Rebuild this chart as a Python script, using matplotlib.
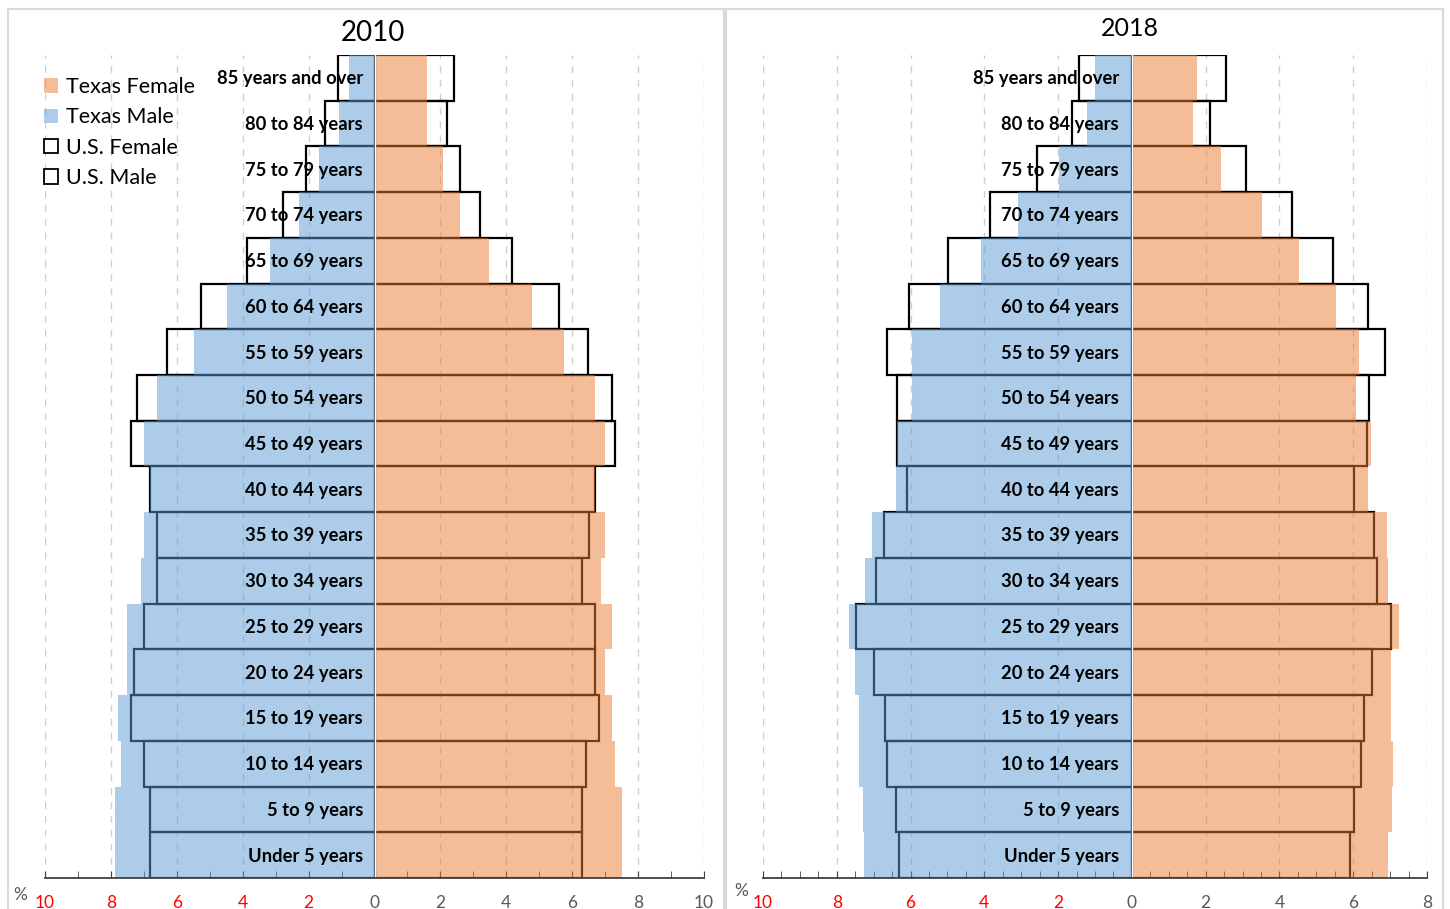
import matplotlib.pyplot as plt
from matplotlib.patches import Patch, Rectangle
from matplotlib.ticker import MultipleLocator

plt.rcParams['font.family'] = ['Lato', 'DejaVu Sans']

# ----------------------------
# Daten (von unten nach oben)
# ----------------------------
ages = ["Under 5 years", "5 to 9 years", "10 to 14 years", "15 to 19 years",
        "20 to 24 years", "25 to 29 years", "30 to 34 years", "35 to 39 years",
        "40 to 44 years", "45 to 49 years", "50 to 54 years", "55 to 59 years",
        "60 to 64 years", "65 to 69 years", "70 to 74 years", "75 to 79 years",
        "80 to 84 years", "85 years and over"]

tx_f_2010 = [7.52, 7.52, 7.30, 7.21, 7.00, 7.21, 6.88, 7.00, 6.70, 7.00,
             6.70, 5.76, 4.77, 3.47, 2.58, 2.09, 1.59, 1.59]
tx_m_2010 = [7.89, 7.89, 7.69, 7.79, 7.50, 7.50, 7.09, 7.00, 6.81, 7.00,
             6.59, 5.48, 4.49, 3.18, 2.28, 1.68, 1.09, 0.77]
us_f_2010 = [6.30, 6.30, 6.41, 6.82, 6.70, 6.70, 6.30, 6.52, 6.70, 7.30,
             7.21, 6.48, 5.59, 4.17, 3.19, 2.59, 2.20, 2.40]
us_m_2010 = [6.80, 6.80, 7.00, 7.39, 7.29, 7.00, 6.59, 6.59, 6.81, 7.38,
             7.21, 6.30, 5.26, 3.87, 2.78, 2.08, 1.51, 1.10]

tx_f_2018 = [6.95, 7.05, 7.07, 7.02, 7.02, 7.24, 6.95, 6.91, 6.40, 6.48,
             6.07, 6.16, 5.53, 4.54, 3.53, 2.42, 1.66, 1.77]
tx_m_2018 = [7.25, 7.29, 7.39, 7.41, 7.50, 7.67, 7.23, 7.05, 6.40, 6.38,
             5.95, 5.95, 5.19, 4.10, 3.08, 1.97, 1.21, 1.01]
us_f_2018 = [5.91, 6.02, 6.21, 6.29, 6.50, 7.02, 6.65, 6.56, 6.03, 6.36,
             6.43, 6.87, 6.41, 5.46, 4.33, 3.09, 2.13, 2.54]
us_m_2018 = [6.30, 6.40, 6.64, 6.69, 6.98, 7.48, 6.95, 6.72, 6.10, 6.38,
             6.37, 6.64, 6.04, 4.99, 3.84, 2.57, 1.61, 1.43]

BLUE = "#5B9BD5"
ORANGE = "#ED7D31"

W, H = 1450, 909
fig = plt.figure(figsize=(W / 100, H / 100), dpi=100)

# Rahmen der beiden Diagrammbereiche
for x0, x1 in [(8, 724), (726, 1443)]:
    fig.patches.append(Rectangle((x0 / W, -0.01), (x1 - x0) / W, 1 - 8.5 / H + 0.01,
                                 transform=fig.transFigure, fill=False,
                                 edgecolor="#D9D9D9", lw=1.5))


def pyramid(ax, tx_f, tx_m, us_f, us_m, xmax, minor):
    y = list(range(len(ages)))
    neg_m = [-v for v in us_m]
    neg_tm = [-v for v in tx_m]
    # U.S. als Umriss, Texas halbtransparent darueber
    ax.barh(y, us_f, height=1.0, facecolor="none", edgecolor="black", lw=1.6, zorder=2)
    ax.barh(y, neg_m, height=1.0, facecolor="none", edgecolor="black", lw=1.6, zorder=2)
    ax.barh(y, tx_f, height=1.0, color=ORANGE, alpha=0.5, lw=0, zorder=3)
    ax.barh(y, neg_tm, height=1.0, color=BLUE, alpha=0.5, lw=0, zorder=3)
    ax.axvline(0, color="white", lw=1.0, zorder=4)

    for yi, lab in zip(y, ages):
        ax.text(-0.35, yi - 0.02, lab, ha="right", va="center", fontsize=13.2,
                fontweight="bold", color="black", zorder=5)

    ax.set_xlim(-10, xmax)
    ax.set_ylim(-0.5, len(ages) - 0.5)
    ticks = list(range(-10, xmax + 1, 2))
    ax.set_xticks(ticks)
    ax.set_xticklabels([str(abs(t)) for t in ticks])
    ax.xaxis.set_minor_locator(MultipleLocator(minor))
    for lab, t in zip(ax.get_xticklabels(), ticks):
        lab.set_color("#FF0000" if t < 0 else "#595959")
        lab.set_fontsize(12.5)
    ax.tick_params(axis="x", which="both", direction="in", length=5,
                   color="#404040", pad=12)
    ax.set_yticks([])
    for s in ["top", "left", "right"]:
        ax.spines[s].set_visible(False)
    ax.spines["bottom"].set_color("#404040")
    ax.spines["bottom"].set_linewidth(1.3)
    ax.spines["bottom"].set_zorder(6)
    ax.set_axisbelow(True)
    ax.grid(axis="x", color="#CFCFCF", linestyle=(0, (5, 5)), lw=1.0)


ax1 = fig.add_axes([45 / W, 1 - 878 / H, 659 / W, 823 / H])
pyramid(ax1, tx_f_2010, tx_m_2010, us_f_2010, us_m_2010, 10, 1)

ax2 = fig.add_axes([763 / W, 1 - 878 / H, 664 / W, 823 / H])
pyramid(ax2, tx_f_2018, tx_m_2018, us_f_2018, us_m_2018, 8, 0.5)

fig.text(373 / W, 1 - 33 / H, "2010", ha="center", va="center", fontsize=20)
fig.text(1130 / W, 1 - 29 / H, "2018", ha="center", va="center", fontsize=18)
fig.text(20 / W, 1 - 895 / H, "%", ha="center", va="center", fontsize=12.5, color="#595959")
fig.text(741 / W, 1 - 891 / H, "%", ha="center", va="center", fontsize=12.5, color="#595959")

handles = [Patch(facecolor=ORANGE, alpha=0.5, edgecolor="none", label="Texas Female"),
           Patch(facecolor=BLUE, alpha=0.5, edgecolor="none", label="Texas Male"),
           Patch(facecolor="white", edgecolor="black", lw=1.3, label="U.S. Female"),
           Patch(facecolor="white", edgecolor="black", lw=1.3, label="U.S. Male")]
fig.legend(handles=handles, loc="upper left", bbox_to_anchor=(44 / W, 1 - 77 / H),
           frameon=False, fontsize=15.5, handlelength=0.65, handleheight=0.65,
           handletextpad=0.35, labelspacing=0.48, borderaxespad=0, borderpad=0)

fig.savefig("out.png", dpi=100)
